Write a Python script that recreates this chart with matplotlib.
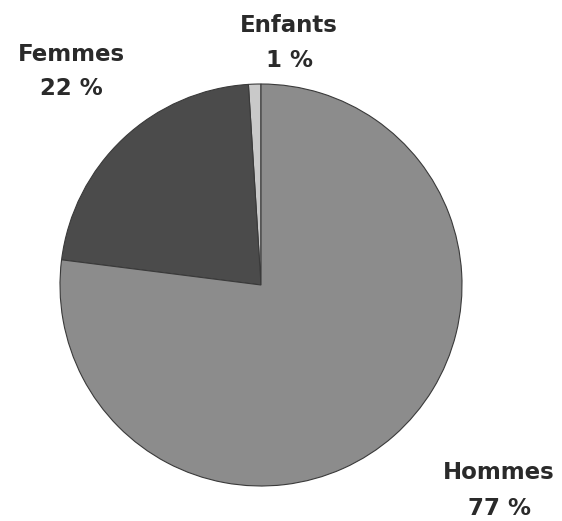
import matplotlib
matplotlib.use("Agg")
import matplotlib.pyplot as plt

categories = ["Enfants", "Femmes", "Hommes"]
values = [1, 22, 77]
pct_labels = ["1 %", "22 %", "77 %"]

colors = ["#c9c9c9", "#4b4b4b", "#8c8c8c"]

W, H = 562, 521
fig = plt.figure(figsize=(W / 100, H / 100), dpi=100)
ax = fig.add_axes([0, 0, 1, 1])

wedges, _ = ax.pie(values, colors=colors, startangle=90, counterclock=True,
                   center=(261, H - 285), radius=201,
                   wedgeprops=dict(edgecolor="#3a3a3a", linewidth=0.8))
ax.set_xlim(0, W)
ax.set_ylim(0, H)
ax.set_aspect("equal")
ax.axis("off")

# label centre positions (pixels from top-left): name line, percent line
label_pos = {"Enfants": (289, 23, 58), "Femmes": (71, 52, 86), "Hommes": (499, 470, 506)}
for cat, pl in zip(categories, pct_labels):
    x, y1, y2 = label_pos[cat]
    for txt, yy in ((cat, y1), (pl, y2)):
        ax.text(x, H - yy, txt, ha="center", va="center_baseline", fontsize=16.5,
                fontweight="bold", family="DejaVu Sans", color="#2a2a2a")

fig.savefig("out.png", dpi=100, facecolor="white")
